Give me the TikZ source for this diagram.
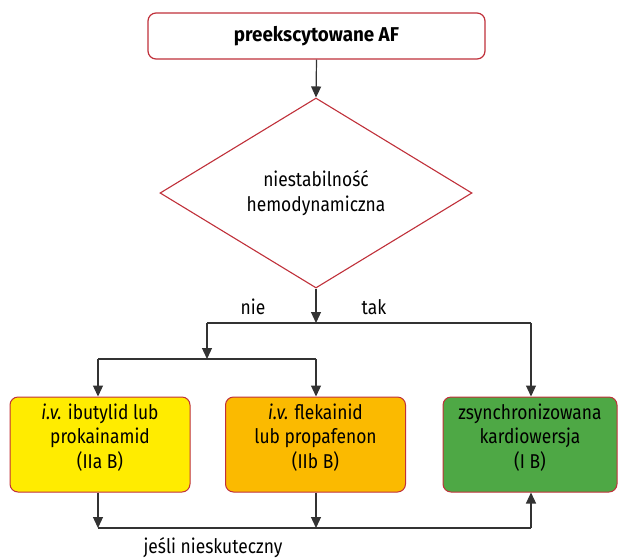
\documentclass[tikz,border=0pt]{standalone}
\usepackage{fontspec}
\setmainfont{Fira Sans}[FakeStretch=0.87, BoldFeatures={FakeStretch=0.94}]
\usetikzlibrary{shapes.geometric,arrows.meta}

\definecolor{frame}{HTML}{C0303A}
\definecolor{wire}{HTML}{333333}
\definecolor{yellowbox}{HTML}{FFEC00}
\definecolor{orangebox}{HTML}{FBBA00}
\definecolor{greenbox}{HTML}{4EA845}

\tikzset{
  txt/.style={font=\fontsize{20}{24.5}\selectfont, align=center, text=black},
  startbox/.style={txt, draw=frame, line width=1.2pt, fill=white, rounded corners=8pt,
    minimum width=337pt, minimum height=46pt, inner sep=0pt},
  decision/.style={txt, diamond, draw=frame, line width=1.1pt, fill=white,
    minimum width=312pt, minimum height=190pt, inner sep=0pt},
  actionbox/.style={txt, draw=frame, line width=1pt, rounded corners=8pt,
    minimum width=180pt, minimum height=95pt, inner sep=0pt},
  conn/.style={draw=wire, line width=1.2pt},
  arr/.style={conn, -{Triangle[length=11pt,width=10pt]}},
  lbl/.style={txt, inner sep=0pt}
}

\begin{document}
\begin{tikzpicture}[x=1pt,y=-1pt]
\useasboundingbox (0,0) rectangle (618,558);

% main nodes
\node[startbox] (start) at (316.5,36) {\bfseries preekscytowane AF};
\node[decision] (q) at (316,193) {niestabilność\\hemodynamiczna};
\node[actionbox, fill=yellowbox] (ibu) at (100,444.5) {\textit{i.v.} ibutylid lub\\prokainamid\\(IIa B)\\[-7pt]};
\node[actionbox, fill=orangebox] (fle) at (315.5,444.5) {\textit{i.v.} flekainid\\lub propafenon\\(IIb B)\\[-7pt]};
\node[actionbox, fill=greenbox, minimum width=174pt] (kard) at (530,444.5) {zsynchronizowana\\kardiowersja\\(I B)\\[-7pt]};

% junction points
\coordinate (split) at (316,323);
\coordinate (nieL) at (207,323);
\coordinate (takR) at (531,323);
\coordinate (nieS) at (207,359);
\coordinate (ibuT) at (98,359);
\coordinate (fleT) at (316,359);
\coordinate (ibuB) at (98,528);
\coordinate (fleB) at (316,528);
\coordinate (kardB) at (531,528);

% connectors
\draw[arr] (start.south) -- (q.north);
\draw[arr] (q.south) -- (split);
\draw[conn] (nieL) -- (takR);
\draw[arr] (nieL) -- (nieS);
\draw[conn] (ibuT) -- (fleT);
\draw[arr] (ibuT) -- (ibuT |- ibu.north);
\draw[arr] (fleT) -- (fleT |- fle.north);
\draw[arr] (takR) -- (takR |- kard.north);
\draw[arr] (ibuB |- ibu.south) -- (ibuB);
\draw[arr] (fleB |- fle.south) -- (fleB);
\draw[conn] (ibuB) -- (kardB);
\draw[arr] (kardB) -- (kardB |- kard.south);

% labels
\node[lbl] (lnie) at (253,307) {nie};
\node[lbl] (ltak) at (374,307) {tak};
\node[lbl] (lfail) at (213,548) {jeśli nieskuteczny};
\end{tikzpicture}
\end{document}
